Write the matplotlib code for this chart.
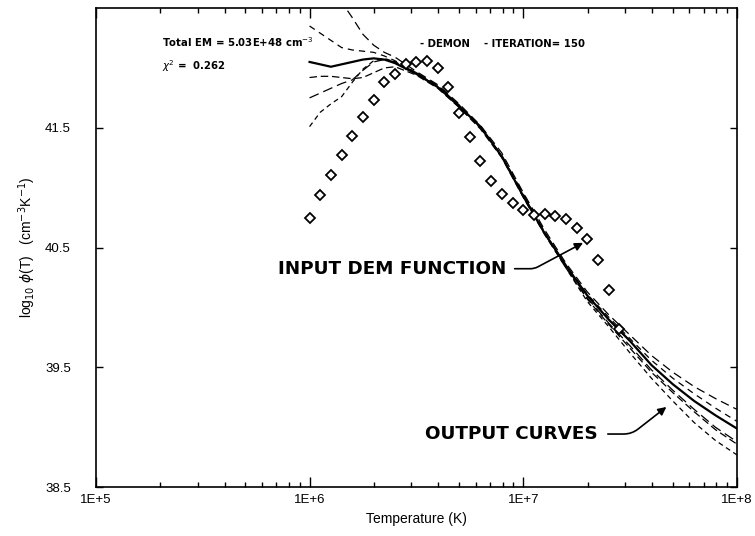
import numpy as np
import matplotlib
matplotlib.use("Agg")
import matplotlib.pyplot as plt
from matplotlib.ticker import LogLocator, FuncFormatter, FixedLocator, NullFormatter

plt.rcParams['font.family'] = ['Liberation Sans', 'DejaVu Sans']

# input DEM points (diamonds), log10 T
pts_logT = [6.00, 6.05, 6.10, 6.15, 6.20, 6.25, 6.30, 6.35, 6.40, 6.45,
            6.50, 6.55, 6.60, 6.65, 6.70, 6.75, 6.80, 6.85, 6.90, 6.95,
            7.00, 7.05, 7.10, 7.15, 7.20, 7.25, 7.30, 7.35, 7.40, 7.45]
pts_phi = [40.75, 40.94, 41.11, 41.27, 41.43, 41.59, 41.73, 41.88, 41.95, 42.03,
           42.05, 42.06, 42.00, 41.84, 41.62, 41.42, 41.22, 41.06, 40.95, 40.87,
           40.81, 40.77, 40.78, 40.76, 40.74, 40.66, 40.57, 40.40, 40.15, 39.82]

# output curves, common log10 T grid
curve_logT = [6.00, 6.05, 6.10, 6.15, 6.20, 6.25, 6.30, 6.35, 6.40, 6.50,
              6.60, 6.70, 6.80, 6.90, 7.00, 7.10, 7.20, 7.30, 7.40, 7.50,
              7.60, 7.70, 7.80, 7.90, 8.00]
mean_curve = [42.05, 42.03, 42.01, 42.03, 42.05, 42.07, 42.08, 42.07, 42.04, 41.95,
              41.84, 41.68, 41.51, 41.26, 40.93, 40.62, 40.35, 40.10, 39.90, 39.72,
              39.52, 39.36, 39.22, 39.10, 38.99]
out1 = [43.40, 43.05, 42.78, 42.55, 42.42, 42.28, 42.19, 42.13, 42.09, 41.97,
        41.86, 41.70, 41.52, 41.29, 40.96, 40.65, 40.37, 40.13, 39.94, 39.77,
        39.60, 39.46, 39.34, 39.24, 39.15]
out2 = [42.35, 42.29, 42.23, 42.17, 42.15, 42.14, 42.13, 42.10, 42.06, 41.96,
        41.85, 41.69, 41.50, 41.26, 40.94, 40.63, 40.35, 40.11, 39.92, 39.74,
        39.56, 39.41, 39.28, 39.16, 39.05]
out3 = [41.92, 41.93, 41.93, 41.92, 41.91, 41.92, 41.96, 42.00, 42.01, 41.94,
        41.83, 41.67, 41.49, 41.25, 40.92, 40.61, 40.33, 40.07, 39.86, 39.66,
        39.46, 39.29, 39.13, 38.98, 38.86]
out4 = [41.75, 41.79, 41.83, 41.87, 41.90, 41.98, 42.05, 42.07, 42.05, 41.96,
        41.85, 41.69, 41.50, 41.27, 40.95, 40.63, 40.34, 40.08, 39.87, 39.68,
        39.48, 39.31, 39.15, 39.00, 38.88]
out5 = [41.51, 41.63, 41.70, 41.76, 41.88, 41.99, 42.06, 42.08, 42.05, 41.96,
        41.84, 41.68, 41.50, 41.26, 40.93, 40.62, 40.33, 40.05, 39.84, 39.62,
        39.41, 39.22, 39.04, 38.89, 38.77]

T = 10 ** np.array(curve_logT)
T_pts = 10 ** np.array(pts_logT)

fig = plt.figure(figsize=(7.55, 5.36), dpi=100)
ax = fig.add_axes([0.127, 0.091, 0.849, 0.894])

dash_styles = [(0, (7, 4)), (0, (5, 4)), (0, (6, 3)), (0, (8, 4)), (0, (4, 3))]
for c, ls in zip([out1, out2, out3, out4, out5], dash_styles):
    ax.plot(T, c, color='black', lw=0.9, ls=ls)
ax.plot(T, mean_curve, color='black', lw=1.6)

ax.plot(T_pts, pts_phi, ls='none', marker='D', ms=5.2, mfc='white',
        mec='black', mew=1.3)

ax.set_xscale('log')
ax.set_xlim(1e5, 1e8)
ax.set_ylim(38.5, 42.5)

ax.xaxis.set_major_locator(FixedLocator([1e5, 1e6, 1e7, 1e8]))
ax.xaxis.set_major_formatter(FuncFormatter(lambda v, p: '1E+%d' % round(np.log10(v))))
ax.xaxis.set_minor_locator(LogLocator(base=10, subs=np.arange(2, 10)))
ax.xaxis.set_minor_formatter(NullFormatter())
ax.yaxis.set_major_locator(FixedLocator([38.5, 39.5, 40.5, 41.5]))
ax.yaxis.set_major_formatter(FuncFormatter(lambda v, p: '%.1f' % v))

ax.tick_params(which='major', direction='in', top=True, right=True,
               length=7, width=1, labelsize=9.5)
ax.tick_params(axis='x', which='major', pad=5)
ax.tick_params(axis='y', which='major', length=5, pad=18)
ax.tick_params(which='minor', direction='in', top=True, length=3.5, width=1)
for s in ax.spines.values():
    s.set_linewidth(1.2)

ax.set_xlabel('Temperature (K)', fontsize=10)
ax.set_ylabel(r'log$_{10}$ $\phi$(T)   (cm$^{-3}$K$^{-1}$)', fontsize=10, labelpad=5)

small = dict(fontsize=7.3, fontweight='bold', va='center', family='DejaVu Sans',
             transform=ax.transAxes)
ax.text(0.103, 0.929, r'Total EM = 5.03E+48 cm$^{-3}$', **small)
ax.text(0.103, 0.878, r'$\chi^2$ =  0.262', **small)
ax.text(0.506, 0.924, '- DEMON', **small)
ax.text(0.606, 0.924, '- ITERATION= 150', **small)

ax.annotate('INPUT DEM FUNCTION', xy=(10 ** 7.28, 40.54),
            xytext=(0.284, 0.456), textcoords='axes fraction',
            fontsize=13.2, fontweight='bold', family='DejaVu Sans',
            ha='left', va='center',
            arrowprops=dict(arrowstyle='-|>', color='black', lw=1.2,
                            mutation_scale=12, shrinkA=4, shrinkB=0,
                            connectionstyle='angle,angleA=0,angleB=28,rad=4'))
ax.annotate('OUTPUT CURVES', xy=(10 ** 7.67, 39.17),
            xytext=(0.514, 0.111), textcoords='axes fraction',
            fontsize=13.2, fontweight='bold', family='DejaVu Sans',
            ha='left', va='center',
            arrowprops=dict(arrowstyle='-|>', color='black', lw=1.2,
                            mutation_scale=12, shrinkA=5, shrinkB=0,
                            connectionstyle='angle,angleA=0,angleB=38,rad=8'))

fig.savefig('out.png', dpi=100)
